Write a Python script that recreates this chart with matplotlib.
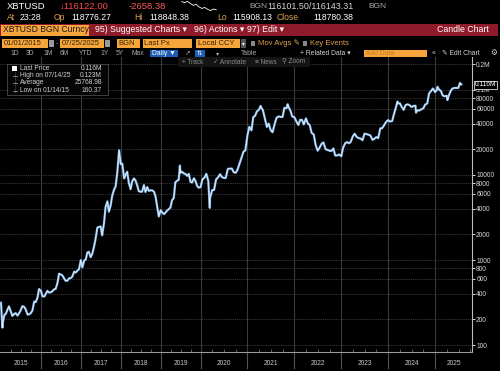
import numpy as np
import pandas as pd
import matplotlib
matplotlib.use('Agg')
import matplotlib.pyplot as plt
from matplotlib.patches import Rectangle
from matplotlib.ticker import FixedLocator, FixedFormatter, NullFormatter

plt.rcParams['font.family'] = ['Liberation Sans', 'DejaVu Sans']

# XBTUSD price, read on the 1st and 15th of each month
p2015 = [314, 178, 226, 234, 260, 285, 247, 220, 232, 237, 222, 236,
         258, 286, 281, 262, 228, 230, 238, 254, 325, 320, 362, 455]
p2016 = [434, 375, 372, 400, 433, 415, 417, 430, 452, 457, 537, 690,
         676, 660, 606, 568, 572, 608, 614, 638, 730, 712, 752, 778]
p2017 = [998, 820, 988, 1010, 1222, 1250, 1080, 1180, 1420, 1750, 2400, 2450,
         2480, 1950, 2720, 4200, 4900, 3700, 4400, 5700, 6750, 7300, 10900, 17700]
p2018 = [13400, 13600, 9100, 10100, 10900, 8200, 6800, 8350, 9100, 8700, 7500, 6450,
         6350, 6350, 7600, 6300, 7200, 6500, 6600, 6600, 6350, 5600, 4200, 3250]
p2019 = [3850, 3620, 3470, 3620, 3820, 3950, 4150, 5050, 5350, 8200, 8550, 8800,
         10600, 10900, 10400, 10300, 9750, 10300, 8300, 8150, 9150, 8500, 7400, 7100]
p2020 = [7200, 8850, 9350, 10300, 8550, 5400, 6650, 6650, 8850, 9300, 10200, 9450,
         9230, 9200, 11800, 11850, 11900, 10800, 10600, 11500, 13750, 16000, 18800, 19400]
p2021 = [29400, 36800, 33500, 48000, 49600, 55800, 58900, 63200, 57800, 46800, 36700, 40200,
         33500, 31800, 39900, 47000, 48800, 48100, 48100, 61500, 61000, 63800, 57200, 48900]
p2022 = [47700, 43100, 38700, 44500, 44400, 39300, 46300, 40500, 38500, 31300, 29800, 22600,
         19300, 20800, 23300, 24100, 20100, 19700, 19300, 19100, 20500, 16900, 17000, 17400]
p2023 = [16600, 20900, 23700, 24300, 23600, 24400, 28500, 30500, 28000, 27200, 26800, 25600,
         30600, 30300, 29700, 29200, 25900, 26600, 27900, 27100, 35400, 35500, 38600, 41900]
p2024 = [44200, 42500, 43100, 51900, 62400, 69500, 69700, 63400, 58300, 66200, 67800, 66200,
         62900, 64700, 65300, 57600, 57300, 59200, 60800, 67000, 69500, 91000, 97300, 104000]
p2025 = [94400, 100000, 100600, 97500, 86000, 84300, 85200, 83700, 96500, 103600,
         105700, 105500, 105700, 117700]

# highs / lows between the regular readings
extra_dates = ['2015-01-14', '2017-12-17', '2019-06-26', '2020-03-13', '2021-04-14',
               '2021-11-10', '2024-03-14', '2024-08-05', '2025-01-20', '2025-04-07',
               '2025-07-14', '2025-07-25']
extra_prices = [160, 19500, 12900, 4100, 64800, 68000, 73000, 54000, 109000, 76000,
                121000, 116122]

spark_vals = [118780, 118500, 118848, 118200, 117600, 117900, 117100, 116600,
              116900, 116300, 115908, 116400, 116122]

ytick_vals = [100, 200, 400, 600, 800, 1000, 2000, 4000, 6000, 8000, 10000,
              20000, 40000, 60000, 80000, 100000, 200000]
ytick_text = ['100', '200', '400', '600', '800', '1000', '2000', '4000', '6000', '8000',
              '10000', '20000', '40000', '60000', '80000', '0.1M', '0.2M']
years = list(range(2015, 2026))

prices = p2015 + p2016 + p2017 + p2018 + p2019 + p2020 + p2021 + p2022 + p2023 + p2024 + p2025
dates = pd.date_range('2015-01-01', '2025-07-15', freq='SMS')
df = pd.concat([pd.DataFrame({'date': dates, 'px': prices}),
                pd.DataFrame({'date': pd.to_datetime(extra_dates), 'px': extra_prices})])
df = df.sort_values('date')
d = df['date'].dt
df['t'] = d.year + (d.dayofyear - 1) / (365 + d.is_leap_year.astype(int))

# after 2020 the terminal gives every calendar day a slot, so years are wider
K = 47 / 40


def fwd(x):
    x = np.asarray(x, float)
    return np.where(x < 2020, x, 2020 + (x - 2020) * K)


def inv(x):
    x = np.asarray(x, float)
    return np.where(x < 2020, x, 2020 + (x - 2020) / K)


W, H = 500, 371
fig = plt.figure(figsize=(5, 3.71), dpi=100, facecolor='black')

# header drawn in pixel coordinates
bg = fig.add_axes([0, 0, 1, 1])
bg.set_xlim(0, W)
bg.set_ylim(H, 0)
bg.axis('off')
bg.set_facecolor('black')

ORANGE = '#f5a53c'
TAN = '#e0a050'
GREY = '#a8a8a8'


def box(x0, y0, x1, y1, fc, ec='none', lw=0.6, ax=bg):
    ax.add_patch(Rectangle((x0, y0), x1 - x0, y1 - y0, fc=fc, ec=ec, lw=lw))


def txt(x, y, s, c='white', size=6, ax=bg, **kw):
    ax.text(x, y, s, color=c, fontsize=size, va='center', **kw)


# row 1
txt(7, 6.5, 'XBTUSD', size=6.8)
txt(60, 6.5, '\u2193116122.00', c='#ff4b4b', size=6.8)
txt(129, 6.5, '-2658.38', c='#ff5a5a', size=6.8)
txt(249, 6.5, 'BGN', c=GREY, size=6)
txt(267, 6.5, '116101.50/116143.31', c='#d8d8d8', size=6.4)
txt(368, 6.5, 'BGN', c=GREY, size=6)
sp = fig.add_axes([180 / W, 1 - 11 / H, 38 / W, 10 / H])
sp.plot(range(len(spark_vals)), spark_vals, color='white', lw=0.6)
sp.axis('off')

# row 2
for x, s, c in [(7, 'At', TAN), (20, '23:28', 'white'), (54, 'Op', TAN),
                (71, '118776.27', 'white'), (134, 'Hi', TAN), (149, '118848.38', 'white'),
                (217, 'Lo', TAN), (232, '115908.13', 'white'), (277, 'Close', TAN),
                (313, '118780.38', 'white')]:
    txt(x, 18, s, c=c, size=6.2)

# row 3 : red band
box(0, 24, 498, 36, '#8e1a2a')
box(1, 24.5, 89, 35.5, ORANGE)
txt(3, 30, 'XBTUSD BGN Curncy', c='#1a1a1a', size=6.2)
txt(95, 30, '95) Suggested Charts \u25be', size=6.3)
txt(194, 30, '96) Actions \u25be', size=6.3)
txt(247, 30, '97) Edit \u25be', size=6.3)
txt(489, 30, 'Candle Chart', size=6.3, ha='right')

# row 4 : input boxes
for x0, x1, s in [(2, 48, '01/01/2015'), (60, 104, '07/25/2025'), (117, 140, 'BGN'),
                  (143, 192, 'Last Px'), (196, 240, 'Local CCY')]:
    box(x0, 38.5, x1, 48, ORANGE)
    txt(x0 + 1.5, 43.3, s, c='#3a2400', size=5.5)
box(49, 39.5, 54, 47, '#9a9a9a')
box(105, 39.5, 110, 47, '#9a9a9a')
txt(55.5, 43.3, '-', c=GREY, size=5)
box(241, 38.5, 246, 48, '#555555')
txt(241.6, 43.3, '\u25be', c='white', size=4)
box(251, 41, 255, 45.5, '#888888')
txt(258, 43.3, 'Mov Avgs \u270e', c=TAN, size=5.5)
box(303, 41, 307, 45.5, '#888888')
txt(310, 43.3, 'Key Events', c=TAN, size=5.5)

# row 5 : toolbar
for x, s in [(10, '1D'), (26, '3D'), (43, '1M'), (60, '6M'), (79, 'YTD'),
             (100, '1Y'), (116, '5Y'), (132, 'Max')]:
    txt(x, 53.3, s, c=GREY, size=4.9)
box(150, 49.5, 178, 57, '#1d5fb8')
txt(152, 53.3, 'Daily \u25bc', size=4.9)
txt(184, 53.3, '\u2197', c=GREY, size=4.8)
box(195, 49.5, 205, 57, '#1d5fb8')
txt(197, 53.3, '\u21c5', size=4.6)
txt(216, 53.3, '\u25be', c=GREY, size=4.6)
txt(241, 53.3, 'Table', c=GREY, size=4.9)
txt(300, 53.3, '+ Related Data \u25be', c='#d0d0d0', size=4.9)
box(364, 49.5, 427, 57, ORANGE)
txt(366, 53.3, 'Add Data', c='#c87a20', size=4.9)
txt(432, 53.3, '\u00ab', c='#d0d0d0', size=5)
txt(442, 53.3, '\u270e Edit Chart', c='#d0d0d0', size=4.9)
txt(490, 53.3, '\u2699', c='#d0d0d0', size=5.5)

# chart
ax = fig.add_axes([0, (H - 352) / H, 472 / W, (352 - 57) / H])
ax.set_facecolor('black')
ax.set_xscale('function', functions=(fwd, inv))
ax.set_yscale('log')
ax.set_xlim(2014.975, 2025.787)
ax.set_ylim(82.8, 244000)

ax.plot(df['t'], df['px'], color='#86b9ea', lw=1.6, zorder=3)
ax.plot(df['t'], df['px'], color='#eef6ff', lw=0.5, zorder=4)

ax.yaxis.tick_right()
ax.yaxis.set_major_locator(FixedLocator(ytick_vals))
ax.yaxis.set_major_formatter(FixedFormatter(ytick_text))
ax.yaxis.set_minor_locator(FixedLocator([]))
ax.yaxis.set_minor_formatter(NullFormatter())
ax.tick_params(axis='y', direction='out', length=2, width=0.6, color='white',
               labelcolor='#d8d8d8', labelsize=4.8, pad=1)
ax.grid(axis='y', color='#4a4a4a', lw=0.6, ls=(0, (1, 1.2)))

ax.xaxis.set_major_locator(FixedLocator(years[1:]))
ax.xaxis.set_major_formatter(NullFormatter())
quarters = [y + q / 4 for y in years for q in (1, 2, 3)]
ax.xaxis.set_minor_locator(FixedLocator(quarters))
ax.tick_params(axis='x', which='both', direction='in', length=2, width=0.5,
               color='#888888')
ax.tick_params(axis='x', which='major', length=0)
for y in years[1:]:
    ax.axvline(y, color='#3a3a3a', lw=0.8, zorder=1)
    ax.plot([y, y], [0, -0.055], color='#555555', lw=0.8,
            transform=ax.get_xaxis_transform(), clip_on=False)
for y in years:
    c = y + 0.5 if y < 2025 else (2025 + 2025.787) / 2
    ax.text(c, -0.038, str(y), transform=ax.get_xaxis_transform(), ha='center',
            va='center', color='#c8c8c8', fontsize=4.8)

for s in ('left', 'top'):
    ax.spines[s].set_visible(False)
ax.spines['right'].set_color('#bbbbbb')
ax.spines['right'].set_linewidth(0.8)
ax.spines['bottom'].set_color('#999999')
ax.spines['bottom'].set_linewidth(0.8)

# overlay: legend, track bar, last price tag
ov = fig.add_axes([0, 0, 1, 1])
ov.set_xlim(0, W)
ov.set_ylim(H, 0)
ov.axis('off')
ov.patch.set_alpha(0)

box(178, 57, 310, 67, '#141414', ax=ov)
for x, s in [(182, '+ Track'), (213, '\u2713 Annotate'), (255, '\u2261 News'), (282, '\u26b2 Zoom')]:
    txt(x, 62, s, c='#8c8c8c', size=4.7, ax=ov)

box(7, 64, 108, 95, '#050505', ec='#4a4a4a', ax=ov)
box(12, 65.5, 17, 70.5, 'white', ax=ov)
rows = [(68, 'Last Price', '0.116M'), (75.5, 'High on 07/14/25', '0.123M'),
        (83, 'Average', '25768.98'), (90.5, 'Low on 01/14/15', '160.37')]
for yy, lab, val in rows:
    txt(20, yy, lab, c='#d0d0d0', size=4.8, ax=ov)
    txt(102, yy, val, c='#d0d0d0', size=4.8, ax=ov, ha='right')
ov.plot([14.5, 14.5], [72, 93], color='#777777', lw=0.5, ls=(0, (1, 1)))
for yy in (75.5, 83, 90.5):
    ov.plot([12.5, 16.5], [yy, yy], color='#999999', lw=0.6)

box(473.5, 80.5, 497, 88.5, 'black', ec='#dddddd', lw=0.6, ax=ov)
txt(485.2, 84.5, '0.116M', c='white', size=4.8, ax=ov, ha='center')

fig.savefig('out.png', dpi=100, facecolor='black')
